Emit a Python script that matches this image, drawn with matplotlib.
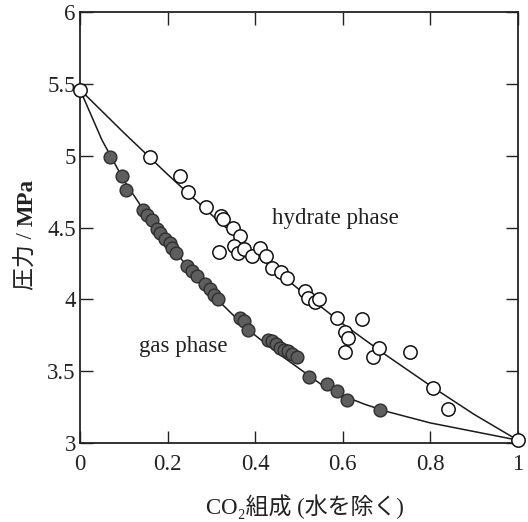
import matplotlib
matplotlib.use("Agg")
import matplotlib.pyplot as plt
from matplotlib.transforms import offset_copy

plt.rcParams["font.family"] = ["Liberation Serif", "Noto Sans CJK JP", "DejaVu Sans"]

# Pure-component end points (open circles)
pure_x = [0.0, 1.0]
pure_p = [5.46, 3.02]

# Gas-phase compositions (filled circles)
gas_x = [0.069, 0.095, 0.106, 0.144, 0.153, 0.164, 0.176, 0.183, 0.194, 0.206,
         0.210, 0.219, 0.244, 0.256, 0.267, 0.286, 0.297, 0.306, 0.315, 0.366,
         0.375, 0.384, 0.430, 0.439, 0.448, 0.457, 0.466, 0.475, 0.484, 0.496,
         0.523, 0.564, 0.587, 0.610, 0.685]
gas_p = [4.99, 4.86, 4.76, 4.62, 4.59, 4.55, 4.49, 4.46, 4.42, 4.39,
         4.36, 4.32, 4.23, 4.20, 4.16, 4.11, 4.07, 4.03, 4.00, 3.87,
         3.85, 3.79, 3.72, 3.71, 3.69, 3.66, 3.65, 3.64, 3.62, 3.60,
         3.46, 3.41, 3.36, 3.30, 3.23]

# Hydrate-phase compositions (open circles)
hyd_x = [0.160, 0.228, 0.247, 0.289, 0.322, 0.327, 0.350, 0.366, 0.317, 0.352,
         0.360, 0.375, 0.394, 0.411, 0.425, 0.439, 0.460, 0.473, 0.514, 0.522,
         0.537, 0.546, 0.587, 0.644, 0.605, 0.612, 0.605, 0.670, 0.683, 0.754,
         0.807, 0.841]
hyd_p = [4.99, 4.86, 4.75, 4.64, 4.58, 4.56, 4.50, 4.44, 4.33, 4.37,
         4.32, 4.35, 4.30, 4.36, 4.30, 4.22, 4.19, 4.15, 4.06, 4.01,
         3.98, 4.00, 3.87, 3.86, 3.77, 3.73, 3.63, 3.60, 3.66, 3.63,
         3.38, 3.24]

# Calculated phase-boundary curves
gas_curve_x = [0.0, 0.05, 0.1, 0.15, 0.2, 0.25, 0.3, 0.35, 0.4, 0.45, 0.5,
               0.55, 0.6, 0.65, 0.7, 0.8, 0.9, 1.0]
gas_curve_p = [5.46, 5.11, 4.83, 4.60, 4.40, 4.21, 4.04, 3.89, 3.75, 3.63, 3.52,
               3.41, 3.33, 3.27, 3.22, 3.14, 3.08, 3.02]
hyd_curve_x = [0.0, 0.1, 0.2, 0.3, 0.4, 0.5, 0.6, 0.7, 0.8, 0.9, 1.0]
hyd_curve_p = [5.46, 5.16, 4.87, 4.59, 4.32, 4.07, 3.83, 3.61, 3.40, 3.20, 3.02]

x_ticks = [0, 0.2, 0.4, 0.6, 0.8, 1.0]
x_tick_labels = ["0", "0.2", "0.4", "0.6", "0.8", "1"]
y_ticks = [3, 3.5, 4, 4.5, 5, 5.5, 6]
y_tick_labels = ["3", "3.5", "4", "4.5", "5", "5.5", "6"]

INK = "#222222"
FS = 16.5

fig = plt.figure(figsize=(5.28, 5.22), dpi=100)
ax = fig.add_axes([80 / 528, 1 - 443 / 522, 437.7 / 528, 431 / 522])

ax.plot(gas_curve_x, gas_curve_p, color="#1a1a1a", lw=1.1, zorder=2)
ax.plot(hyd_curve_x, hyd_curve_p, color="#1a1a1a", lw=1.1, zorder=2)

ax.plot(gas_x, gas_p, "o", ms=9.2, mfc="#5e5e5e", mec="#2e2e2e", mew=1.0,
        ls="none", zorder=3)
ax.plot(hyd_x, hyd_p, "o", ms=9.6, mfc="white", mec="#111111", mew=1.1,
        ls="none", zorder=3)
ax.plot(pure_x, pure_p, "o", ms=9.6, mfc="white", mec="#111111", mew=1.1,
        ls="none", zorder=4, clip_on=False)

ax.set_xlim(0, 1)
ax.set_ylim(3, 6)
ax.set_xticks(x_ticks)
ax.set_xticklabels(x_tick_labels)
ax.set_yticks(y_ticks)
ax.set_yticklabels(y_tick_labels)

ax.tick_params(direction="in", length=9, width=1.0, labelsize=FS,
               top=True, right=True, colors=INK, labelcolor=INK)
ax.tick_params(axis="x", pad=8)
ax.tick_params(axis="y", pad=3)
for sp in ax.spines.values():
    sp.set_linewidth(1.3)
    sp.set_color(INK)

ax.text(0.583, 4.56, "hydrate phase", fontsize=FS, ha="center", va="center",
        color=INK)
ax.text(0.235, 3.67, "gas phase", fontsize=FS, ha="center", va="center",
        color=INK)

# x-axis title
ax.set_xlabel("CO₂組成 (水を除く)", fontsize=FS, color=INK, va="center")
ax.xaxis.set_label_coords(0.515, -0.148)

# y-axis title: regular "圧力 / " followed by bold "MPa", stacked upward
y_label_x = 27 / 528
y_label_bottom = (522 - 290) / 522
part1 = fig.text(y_label_x, y_label_bottom, "圧力 / ", rotation=90,
                 fontsize=FS, color=INK, ha="center", va="bottom")
renderer = fig.canvas.get_renderer()
ext = part1.get_window_extent(renderer=renderer)
part2 = fig.text(y_label_x, ext.y1 / fig.bbox.height, "MPa", rotation=90,
                 fontsize=FS, fontweight="bold", color=INK,
                 ha="center", va="bottom")

fig.savefig("out.png", dpi=100)
